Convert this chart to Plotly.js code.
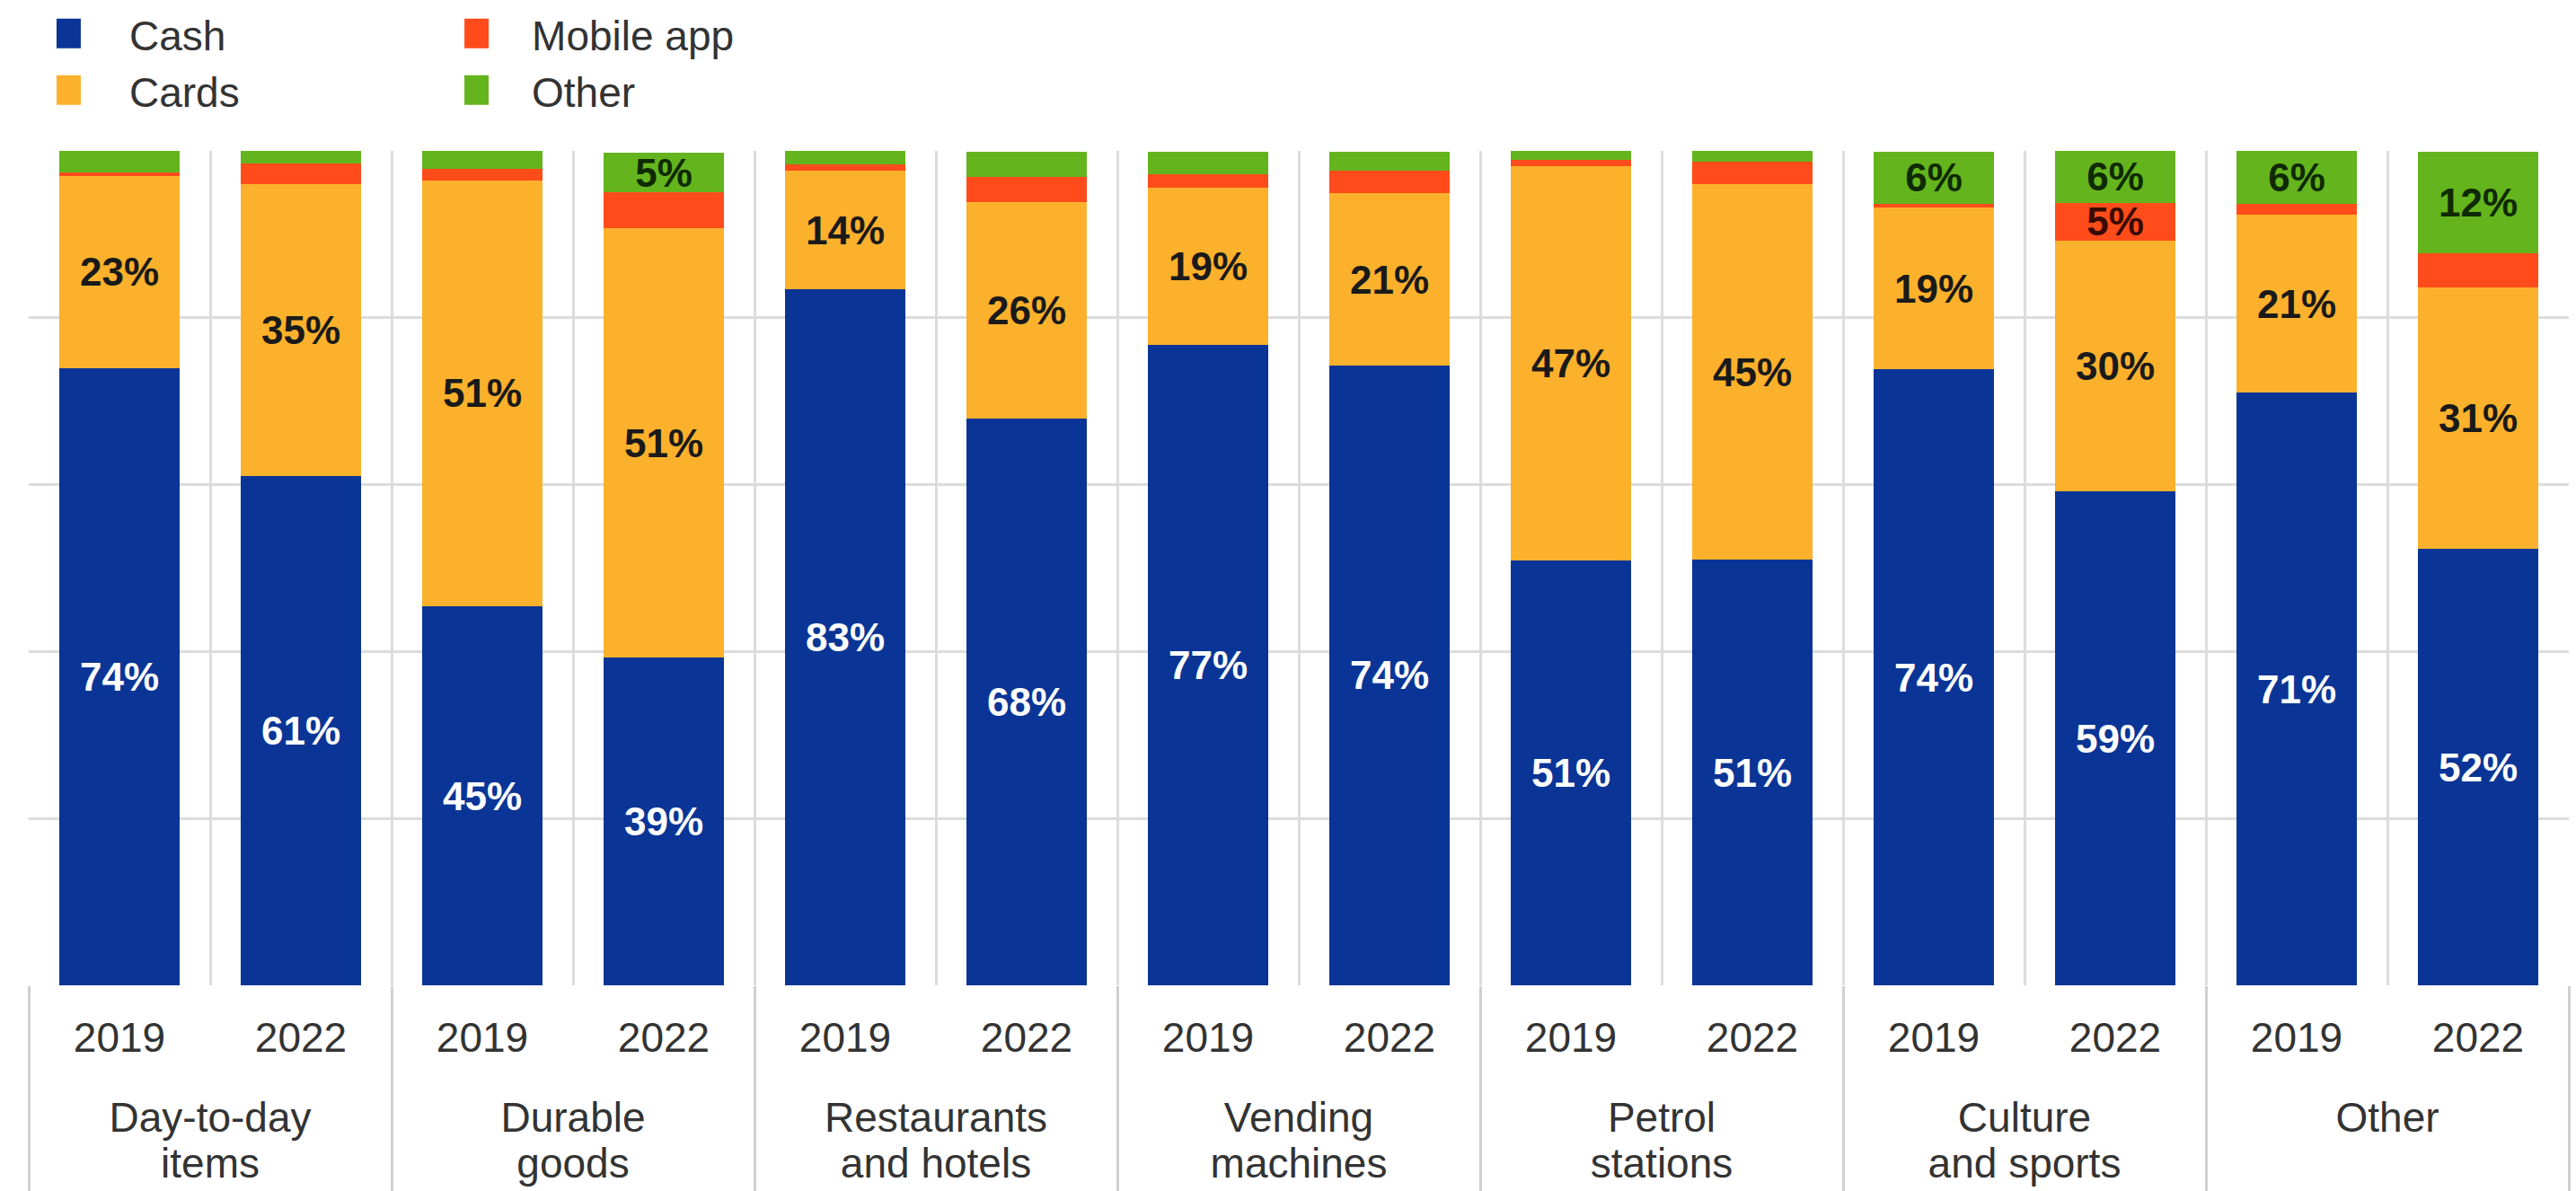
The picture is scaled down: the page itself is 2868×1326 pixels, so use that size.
<!DOCTYPE html>
<html>
<head>
<meta charset="utf-8">
<script src="https://cdn.plot.ly/plotly-3.0.1.min.js"></script>
<style>
  html, body { margin: 0; padding: 0; background: #ffffff; }
  #chart { width: 2868px; height: 1326px; }
</style>
</head>
<body>
<div id="chart"></div>
<script>
// ---- Data ----
const groups = ['Day-to-day<br>items', 'Durable<br>goods', 'Restaurants<br>and hotels', 'Vending<br>machines', 'Petrol<br>stations', 'Culture<br>and sports', 'Other'];
const years = ['2019', '2022'];

// one value per bar, in order: group1-2019, group1-2022, group2-2019, ...
const cash   = [74.0, 61.0, 45.4, 39.3, 83.4, 67.9, 76.8, 74.3, 50.9, 51.0, 73.8, 59.2, 71.0, 52.3];
const cards  = [23.0, 35.0, 51.1, 51.4, 14.2, 26.0, 18.8, 20.6, 47.3, 45.0, 19.4, 30.0, 21.4, 31.3];
const mobile = [ 0.4,  2.5,  1.4,  4.3,  0.8,  3.0,  1.6,  2.7,  0.7,  2.7,  0.5,  4.6,  1.2,  4.1];
const other  = [ 2.6,  1.5,  2.1,  4.8,  1.6,  3.0,  2.7,  2.3,  1.1,  1.6,  6.2,  6.3,  6.4, 12.2];

const seriesNames = ['Cash', 'Cards', 'Mobile app', 'Other'];
const seriesColors = ['#0a3596', '#fbb12c', '#ff4c1a', '#64b41e'];
const labelColors = ['#ffffff', '#1a1a1a', '#3a0a00', '#0f2a00'];

// ---- Build ----
const xGroups = [], xYears = [];
groups.forEach(g => years.forEach(y => { xGroups.push(g); xYears.push(y); }));

function labels(vals) { return vals.map(v => v >= 4.5 ? Math.round(v) + '%' : ''); }

const seriesVals = [cash, cards, mobile, other];
const legendFor = ['legend', 'legend', 'legend2', 'legend2'];

const traces = seriesVals.map((vals, i) => ({
  type: 'bar',
  name: seriesNames[i],
  x: [xGroups, xYears],
  y: vals,
  text: labels(vals),
  textposition: 'inside',
  insidetextanchor: 'middle',
  constraintext: 'none',
  textangle: 0,
  textfont: { family: 'Liberation Sans, Arial, sans-serif', size: 44, color: labelColors[i], weight: 'bold' },
  marker: { color: seriesColors[i], line: { width: 0 } },
  legend: legendFor[i],
  hoverinfo: 'skip'
}));

const font = { family: 'Liberation Sans, Arial, sans-serif', size: 46, color: '#333333' };

const layout = {
  width: 2868,
  height: 1326,
  margin: { l: 32, r: 8, t: 168, b: 229, autoexpand: false },
  paper_bgcolor: '#ffffff',
  plot_bgcolor: '#ffffff',
  barmode: 'stack',
  bargap: 0.34,
  font: font,
  uniformtext: { mode: 'show', minsize: 44 },
  xaxis: {
    type: 'multicategory',
    tickson: 'boundaries',
    showgrid: true,
    gridcolor: '#dcdcdc',
    gridwidth: 3,
    showdividers: true,
    dividercolor: '#d0d0d0',
    dividerwidth: 3,
    showline: false,
    ticks: '',
    tickfont: font,
    fixedrange: true
  },
  yaxis: {
    range: [0, 100],
    dtick: 20,
    showticklabels: false,
    showgrid: true,
    gridcolor: '#dcdcdc',
    gridwidth: 3,
    zeroline: false,
    showline: false,
    fixedrange: true
  },
  legend: {
    x: -0.0078, y: 1.1793, xanchor: 'left', yanchor: 'top',
    orientation: 'v',
    font: font,
    bgcolor: 'rgba(0,0,0,0)',
    itemwidth: 124,
    traceorder: 'normal'
  },
  legend2: {
    x: 0.1549, y: 1.1793, xanchor: 'left', yanchor: 'top',
    orientation: 'v',
    font: font,
    bgcolor: 'rgba(0,0,0,0)',
    itemwidth: 112,
    traceorder: 'normal'
  },
  showlegend: true
};

Plotly.newPlot('chart', traces, layout, { displayModeBar: false, staticPlot: true }).then(gd => {
  // larger legend swatches
  gd.querySelectorAll('.legendpoints path').forEach(p => {
    p.setAttribute('d', 'M-14,-17h27v33h-27z');
  });
  // spacing of the two label rows under the axis
  gd.querySelectorAll('g.xtick').forEach(g => g.setAttribute('transform', 'translate(0,27)'));
  gd.querySelectorAll('g.xtick2').forEach(g => {
    g.setAttribute('transform', 'translate(0,62)');
    g.querySelectorAll('tspan.line').forEach(t => {
      if (t.getAttribute('dy') === '1.3em') t.setAttribute('dy', '1.1em');
    });
  });
  // dividers reach the bottom edge
  gd.querySelectorAll('path.xdivider').forEach(p => {
    const d = p.getAttribute('d') || '';
    p.setAttribute('d', d.replace(/([vV])\s*-?[\d.]+/, '$1' + 240));
  });
});
</script>
</body>
</html>
